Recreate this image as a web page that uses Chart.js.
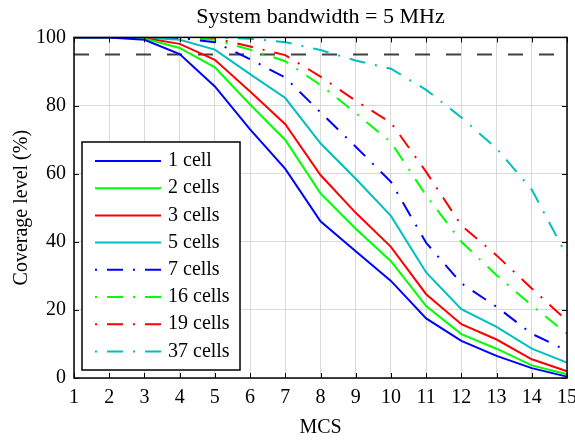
<!DOCTYPE html>
<html lang="en">
<head>
  <meta charset="UTF-8">
  <title>Coverage level vs MCS</title>
  <script src="https://cdn.jsdelivr.net/npm/chart.js@4.4.1/dist/chart.umd.min.js"></script>
  <style>
    body { margin: 0; background: #fff; }
    #wrap { width: 575px; height: 441px; }
  </style>
</head>
<body>
  <div id="wrap"><canvas id="coverageChart" width="575" height="441"></canvas></div>
  <script>
    // data
    const mcs = [1, 2, 3, 4, 5, 6, 7, 8, 9, 10, 11, 12, 13, 14, 15];
    const cellLabels = ['1 cell', '2 cells', '3 cells', '5 cells', '7 cells', '16 cells', '19 cells', '37 cells'];
    const cell1 = [100, 100, 99.3, 95.1, 85.6, 73, 61.4, 46, 37.2, 28.5, 17.5, 10.9, 6.5, 2.9, 0.4];
    const cell2 = [100, 100, 99.7, 96.9, 91.2, 80.3, 69.9, 54.2, 43.8, 34.3, 21.1, 12.9, 8.6, 3.7, 1.1];
    const cell3 = [100, 100, 99.8, 98.1, 93.4, 84.1, 74.5, 59.6, 48.5, 38.5, 24.6, 15.8, 11.3, 5.5, 2];
    const cell5 = [100, 100, 100, 99.3, 96.4, 89.2, 82.2, 68.9, 58.5, 47.6, 31, 20.2, 15, 8.6, 4.5];
    const cell7 = [100, 100, 100, 99.8, 98.6, 93.6, 88.2, 78, 67.9, 57.6, 39.7, 27.8, 20.9, 13, 8];
    const cell16 = [100, 100, 100, 100, 99.3, 96.4, 93, 86, 77.8, 69.2, 53.6, 40, 30.2, 21.3, 13];
    const cell19 = [100, 100, 100, 100, 99.8, 97.3, 94.8, 88.5, 81.4, 75, 60.5, 44.8, 36, 26.3, 16.8];
    const cell37 = [100, 100, 100, 100, 100, 99.6, 98.6, 96.3, 93.2, 90.8, 84.6, 76.5, 67.4, 55.3, 35.8];
    const target = 95;
    const yTicks = [0, 20, 40, 60, 80, 100];

    const FONT = "'Liberation Serif', 'Times New Roman', serif";
    const dashDot = [2, 10, 16, 10];
    const seriesData = [cell1, cell2, cell3, cell5, cell7, cell16, cell19, cell37];
    const colors = ['#0000ff', '#00ff00', '#ff0000', '#00bfbf', '#0000ff', '#00ff00', '#ff0000', '#00bfbf'];

    const datasets = seriesData.map((d, i) => ({
      label: cellLabels[i],
      data: d,
      borderColor: colors[i],
      borderWidth: 2,
      borderDash: i >= 4 ? dashDot : [],
      pointRadius: 0,
      tension: 0,
      fill: false
    }));
    datasets.push({
      label: 'target',
      data: mcs.map(() => target),
      borderColor: '#404040',
      borderWidth: 2,
      borderDash: [15, 16],
      pointRadius: 0,
      fill: false
    });

    // box, inward ticks and the in-plot legend
    const framePlugin = {
      id: 'frame',
      afterDraw(chart) {
        const { ctx, chartArea: a, scales } = chart;
        ctx.save();
        ctx.strokeStyle = '#000';
        ctx.lineWidth = 1;
        ctx.setLineDash([]);
        ctx.beginPath();
        scales.x.ticks.forEach((t, i) => {
          const x = Math.round(scales.x.getPixelForTick(i)) + 0.5;
          ctx.moveTo(x, a.bottom); ctx.lineTo(x, a.bottom - 5);
          ctx.moveTo(x, a.top); ctx.lineTo(x, a.top + 5);
        });
        yTicks.forEach(v => {
          const y = Math.round(scales.y.getPixelForValue(v)) + 0.5;
          ctx.moveTo(a.left, y); ctx.lineTo(a.left + 5, y);
          ctx.moveTo(a.right, y); ctx.lineTo(a.right - 5, y);
        });
        ctx.stroke();
        ctx.lineWidth = 1.5;
        ctx.strokeRect(a.left, a.top, a.right - a.left, a.bottom - a.top);

        // legend
        const bx = 82, by = 142, bw = 158, bh = 228;
        ctx.fillStyle = '#fff';
        ctx.fillRect(bx, by, bw, bh);
        ctx.strokeRect(bx, by, bw, bh);
        ctx.font = '20px ' + FONT;
        ctx.textBaseline = 'middle';
        ctx.textAlign = 'left';
        chart.data.datasets.slice(0, cellLabels.length).forEach((ds, i) => {
          const y = by + 19 + i * 27.2;
          ctx.strokeStyle = ds.borderColor;
          ctx.lineWidth = 2;
          ctx.setLineDash(ds.borderDash);
          ctx.beginPath();
          ctx.moveTo(95, y); ctx.lineTo(161, y);
          ctx.stroke();
          ctx.fillStyle = '#000';
          ctx.fillText(ds.label, 168, y);
        });
        ctx.restore();
      }
    };

    new Chart(document.getElementById('coverageChart'), {
      type: 'line',
      data: { labels: mcs, datasets: datasets },
      options: {
        responsive: false,
        animation: false,
        devicePixelRatio: 1,
        layout: { padding: { left: 0, right: 8, top: 0, bottom: 0 } },
        plugins: {
          legend: { display: false },
          tooltip: { enabled: false },
          title: {
            display: true,
            fullSize: false,
            text: 'System bandwidth = 5 MHz',
            color: '#000',
            font: { family: FONT, size: 22, weight: 'normal' },
            padding: { top: 4, bottom: 7 }
          }
        },
        scales: {
          x: {
            type: 'category',
            afterFit: s => { s.height = 63; s.paddingLeft = 0; s.paddingRight = 0; },
            grid: { color: '#d9d9d9', drawTicks: false },
            border: { display: false },
            ticks: { color: '#000', padding: 8, maxRotation: 0, autoSkip: false, font: { family: FONT, size: 20 } },
            title: { display: true, text: 'MCS', color: '#000', font: { family: FONT, size: 20 }, padding: { bottom: 1 } }
          },
          y: {
            min: 0,
            max: 100,
            afterFit: s => { s.width = 74; },
            afterBuildTicks: s => { s.ticks = yTicks.map(v => ({ value: v })); },
            grid: { color: '#d9d9d9', drawTicks: false },
            border: { display: false },
            ticks: { color: '#000', padding: 8, font: { family: FONT, size: 20 } },
            title: { display: true, text: 'Coverage level (%)', color: '#000', font: { family: FONT, size: 20 }, padding: { top: 10 } }
          }
        }
      },
      plugins: [framePlugin]
    });
  </script>
</body>
</html>
